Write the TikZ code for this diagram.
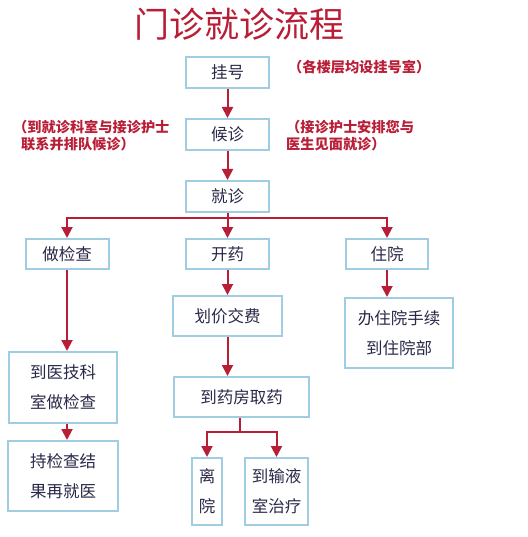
\documentclass[tikz,border=0pt]{standalone}
\usepackage{fontspec}
\setmainfont{Noto Sans CJK SC}
\usetikzlibrary{arrows.meta}
\definecolor{boxblue}{RGB}{160,205,225}
\definecolor{flowred}{RGB}{185,30,55}
\definecolor{inkblue}{RGB}{40,40,72}

\begin{document}
\begin{tikzpicture}[x=1pt, y=-1pt, >={Triangle[length=11pt,width=11pt]},
    step box/.style={draw=boxblue, line width=2pt, text=inkblue, align=center,
      inner sep=0pt, font=\fontsize{16.5}{30}\selectfont},
    flow/.style={->, draw=flowred, line width=2pt},
    note/.style={text=flowred, align=left, inner sep=0pt, anchor=west,
      font=\fontsize{14.2}{17}\selectfont\bfseries}]
  \useasboundingbox (0,0) rectangle (527,537);
  % title
  \node[text=flowred] (title) at (239,24) {\fontsize{35}{35}\selectfont 门诊就诊流程};
  % boxes
  \node[step box, minimum width=83, minimum height=31] (guahao) at (227.5,72.5) {挂号};
  \node[step box, minimum width=83, minimum height=31] (houzhen) at (227.5,134.5) {候诊};
  \node[step box, minimum width=83, minimum height=31] (jiuzhen) at (227.5,196.5) {就诊};
  \node[step box, minimum width=83, minimum height=30] (jiancha) at (67,254) {做检查};
  \node[step box, minimum width=83, minimum height=30] (kaiyao) at (227.5,254) {开药};
  \node[step box, minimum width=82, minimum height=30] (zhuyuan) at (387,254) {住院};
  \node[step box, minimum width=109, minimum height=40] (huajia) at (227.5,316) {划价交费};
  \node[step box, minimum width=108, minimum height=70] (banli) at (399,333) {办住院手续\\到住院部};
  \node[step box, minimum width=108, minimum height=71] (yiji) at (63,387.5) {到医技科\\室做检查};
  \node[step box, minimum width=135, minimum height=40] (quyao) at (241.5,397) {到药房取药};
  \node[step box, minimum width=110, minimum height=70] (chijian) at (63,476) {持检查结\\果再就医};
  \node[step box, minimum width=30, minimum height=67] (liyuan) at (207,491.5) {离\\院};
  \node[step box, minimum width=63, minimum height=67] (shuye) at (276.5,491.5) {到输液\\室治疗};
  % notes
  \node[note] (note1) at (288,67) {（各楼层均设挂号室）};
  \node[note] (note2) at (13,136) {（到就诊科室与接诊护士\\\hspace*{8pt}联系并排队候诊）};
  \node[note] (note3) at (286,136) {（接诊护士安排您与\\医生见面就诊）};
  % arrows
  \draw[flow] (guahao) -- (houzhen);
  \draw[flow] (houzhen) -- (jiuzhen);
  \coordinate (fork) at (227.5,218);
  \draw[flow] (jiuzhen.south) -- (fork) -| (jiancha.north);
  \draw[flow] (fork) -- (kaiyao.north);
  \draw[flow] (fork) -| (zhuyuan.north);
  \draw[flow] (kaiyao) -- (huajia);
  \draw[flow] (zhuyuan.south) -- (zhuyuan.south |- banli.north);
  \draw[flow] (jiancha.south) -- (jiancha.south |- yiji.north);
  \draw[flow] (huajia.south) -- (huajia.south |- quyao.north);
  \draw[flow] (yiji.south -| jiancha.south) -- (jiancha.south |- chijian.north);
  \coordinate (fork2) at (240,432);
  \draw[flow] (fork2 |- quyao.south) -- (fork2) -| (liyuan.north);
  \draw[flow] (fork2) -| (shuye.north);
\end{tikzpicture}
\end{document}
